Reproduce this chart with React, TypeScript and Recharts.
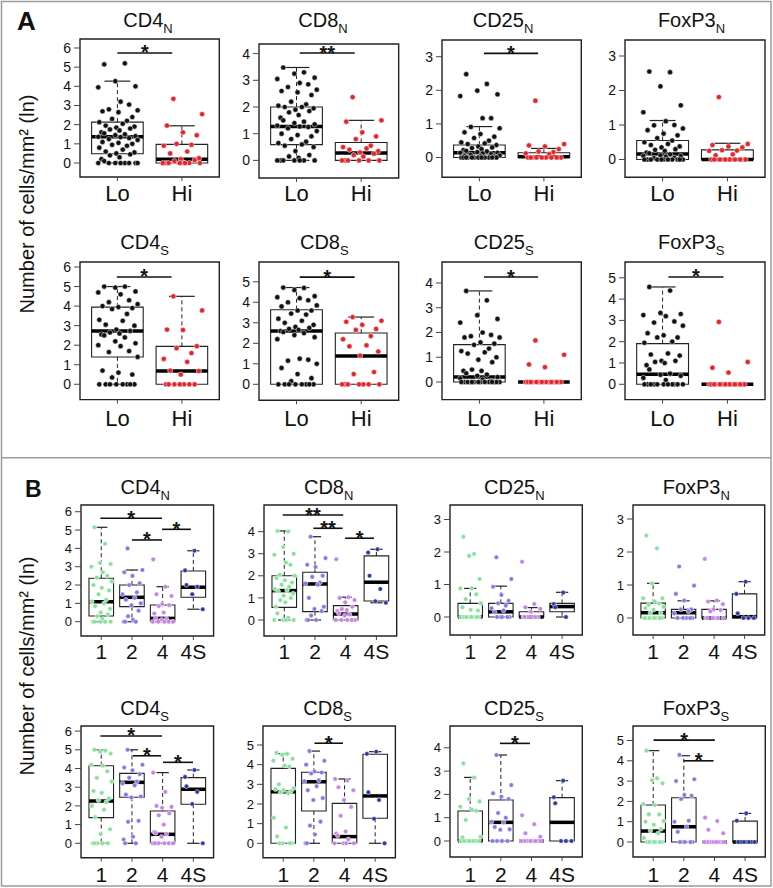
import { ComposedChart, Scatter, XAxis, YAxis, ReferenceArea, ReferenceLine } from 'recharts'

const FONT = '"Liberation Sans", Arial, Helvetica, sans-serif'

// categories
const GROUPS_A = ['Lo', 'Hi']
const GROUPS_B = ['1', '2', '4', '4S']
const MARKERS = ['CD4', 'CD8', 'CD25', 'FoxP3']
const Y_TITLE = 'Number of cells/mm² (ln)'
// highest labelled y tick per plot (CD4N, CD8N, CD25N, FoxP3N, CD4S, CD8S, CD25S, FoxP3S)
const Y_TOP_TICK = [6, 4, 3, 3, 6, 5, 4, 5]

// ---- panel A: Lo vs Hi. box = [lower whisker, q1, median, q3, upper whisker]
const A_CD4N_PTS = [
  [5.15, 5.2, 4.27, 4.0, 3.95, 3.2, 3.05, 2.8, 2.75, 2.7, 2.65, 2.4, 2.3, 2.2, 2.13, 2.05, 1.95, 1.9, 1.85, 1.8, 1.75, 1.7, 1.6, 1.55, 1.5, 1.45, 1.4, 1.37, 1.35, 1.3, 1.25, 1.2, 1.1, 1.05, 1.0, 0.95, 0.9, 0.8, 0.7, 0.6, 0.55, 0.5, 0.45, 0.4, 0.3, 0.2, 0.1, 0, 0, 0, 0, 0, 0, 0, 0],
  [3.35, 2.55, 1.95, 1.6, 1.45, 1.0, 0.95, 0.9, 0.6, 0.5, 0.25, 0.2, 0.15, 0.1, 0, 0, 0, 0, 0, 0, 0, 0],
]
const A_CD4N_BOX = [[0, 0.48, 1.37, 2.13, 4.27], [0, 0, 0.2, 0.97, 1.94]]
const A_CD4N_SIG = [[1.0, 1.85, 5.74, '*']]

const A_CD8N_PTS = [
  [3.48, 3.3, 3.25, 3.1, 3.05, 2.9, 2.85, 2.75, 2.65, 2.6, 2.55, 2.45, 2.2, 2.1, 2.05, 2.0, 2.0, 1.95, 1.9, 1.85, 1.8, 1.7, 1.6, 1.5, 1.45, 1.4, 1.35, 1.3, 1.27, 1.25, 1.2, 1.1, 1.0, 0.95, 0.9, 0.8, 0.7, 0.65, 0.6, 0.55, 0.5, 0.35, 0.2, 0.15, 0.1, 0, 0, 0, 0, 0, 0, 0],
  [2.37, 1.5, 1.45, 1.05, 0.9, 0.8, 0.55, 0.5, 0.45, 0.4, 0.35, 0.3, 0.25, 0.2, 0.15, 0, 0, 0, 0, 0, 0],
]
const A_CD8N_BOX = [[0, 0.59, 1.27, 2.0, 3.48], [0, 0, 0.28, 0.67, 1.5]]
const A_CD8N_SIG = [[1.05, 1.9, 4.02, '**']]

const A_CD25N_PTS = [
  [2.48, 2.19, 1.99, 1.88, 1.83, 1.17, 1.17, 0.91, 0.87, 0.75, 0.7, 0.62, 0.58, 0.5, 0.45, 0.42, 0.4, 0.37, 0.33, 0.3, 0.28, 0.25, 0.22, 0.2, 0.18, 0.16, 0.14, 0.14, 0.12, 0.1, 0.08, 0.06, 0.05, 0.04, 0.03, 0, 0, 0, 0, 0, 0, 0, 0, 0, 0, 0, 0],
  [1.69, 0.4, 0.36, 0.33, 0.25, 0.18, 0.16, 0.12, 0.1, 0, 0, 0, 0, 0, 0, 0, 0, 0, 0],
]
const A_CD25N_BOX = [[0, 0, 0.14, 0.37, 0.92], [0, 0, 0.02, 0.14, 0.27]]
const A_CD25N_SIG = [[1.07, 1.91, 3.1, '*']]

const A_FOXP3N_PTS = [
  [2.55, 2.53, 2.12, 1.57, 1.37, 1.11, 1.0, 0.99, 0.9, 0.85, 0.75, 0.7, 0.62, 0.55, 0.5, 0.45, 0.42, 0.38, 0.35, 0.3, 0.28, 0.25, 0.2, 0.18, 0.15, 0.12, 0.1, 0.1, 0.08, 0.05, 0.04, 0, 0, 0, 0, 0, 0, 0, 0, 0, 0, 0],
  [1.81, 0.45, 0.42, 0.38, 0.35, 0.27, 0.26, 0.25, 0.15, 0.12, 0, 0, 0, 0, 0, 0, 0, 0, 0, 0],
]
const A_FOXP3N_BOX = [[0, 0, 0.16, 0.55, 1.13], [0, 0, 0, 0.28, 0.47]]
const A_FOXP3N_SIG: (number | string)[][] = []

const A_CD4S_PTS = [
  [5.0, 5.0, 4.95, 4.75, 4.7, 4.6, 4.3, 4.2, 4.1, 4.0, 3.95, 3.9, 3.85, 3.6, 3.3, 3.25, 3.05, 3.0, 2.8, 2.73, 2.65, 2.6, 2.55, 2.5, 2.4, 2.2, 2.1, 2.0, 1.95, 1.7, 1.65, 1.4, 0.7, 0.6, 0.5, 0.35, 0, 0, 0, 0, 0, 0, 0, 0],
  [4.5, 3.78, 2.8, 2.78, 1.95, 1.85, 1.6, 1.3, 1.15, 0.7, 0.68, 0.5, 0, 0, 0, 0, 0, 0, 0],
]
const A_CD4S_BOX = [[0, 1.4, 2.73, 3.95, 5.0], [0, 0, 0.68, 1.94, 4.5]]
const A_CD4S_SIG = [[0.99, 1.84, 5.49, '*']]

const A_CD8S_PTS = [
  [4.72, 4.7, 4.6, 4.3, 4.25, 4.2, 4.1, 4.0, 3.85, 3.8, 3.6, 3.6, 3.45, 3.4, 3.2, 3.1, 3.0, 2.9, 2.8, 2.75, 2.7, 2.65, 2.6, 2.55, 2.5, 2.4, 2.3, 2.2, 1.25, 1.2, 1.15, 1.0, 0.8, 0.5, 0.3, 0.15, 0, 0, 0, 0, 0, 0, 0, 0],
  [3.28, 3.1, 3.05, 2.9, 2.7, 2.65, 2.35, 2.2, 1.9, 1.85, 1.6, 1.4, 0.6, 0.5, 0, 0, 0, 0, 0, 0, 0],
]
const A_CD8S_BOX = [[0, 0, 2.6, 3.64, 4.72], [0, 0, 1.38, 2.5, 3.28]]
const A_CD8S_SIG = [[1.05, 1.9, 5.23, '*']]

const A_CD25S_PTS = [
  [3.68, 3.3, 2.7, 2.55, 2.4, 2.0, 1.9, 1.85, 1.8, 1.8, 1.6, 1.55, 1.5, 1.35, 1.25, 1.2, 1.15, 1.0, 0.9, 0.8, 0.5, 0.45, 0.45, 0.35, 0.3, 0.25, 0.2, 0.15, 0.1, 0.05, 0, 0, 0, 0, 0, 0, 0, 0, 0, 0, 0, 0, 0, 0],
  [1.68, 1.1, 0.71, 0.6, 0, 0, 0, 0, 0, 0, 0, 0, 0, 0, 0, 0, 0, 0, 0],
]
const A_CD25S_BOX = [[0, 0, 0.2, 1.51, 3.68], [0, 0, 0, 0, 0]]
const A_CD25S_SIG = [[1.07, 1.91, 4.24, '*']]

const A_FOXP3S_PTS = [
  [4.57, 4.4, 3.35, 3.3, 3.25, 3.2, 2.95, 2.9, 2.75, 2.4, 2.3, 2.2, 2.2, 2.0, 1.95, 1.45, 1.4, 1.35, 1.1, 1.1, 1.05, 1.0, 0.9, 0.7, 0.5, 0.45, 0.4, 0.3, 0.2, 0, 0, 0, 0, 0, 0, 0, 0, 0, 0, 0],
  [2.93, 1.05, 0.78, 0.55, 0, 0, 0, 0, 0, 0, 0, 0, 0, 0, 0, 0, 0, 0, 0],
]
const A_FOXP3S_BOX = [[0, 0, 0.47, 1.91, 4.57], [0, 0, 0, 0, 0]]
const A_FOXP3S_SIG = [[1.09, 1.94, 5.04, '*']]

// ---- panel B: groups 1, 2, 4, 4S
const B_CD4N_PTS = [
  [5.15, 4.25, 3.2, 3.15, 3.0, 2.7, 2.5, 2.4, 2.2, 2.0, 1.85, 1.7, 1.5, 1.2, 1.1, 1.0, 0.85, 0.7, 0.5, 0.4, 0.3, 0.15, 0, 0, 0, 0, 0],
  [4.0, 2.82, 2.7, 2.5, 2.1, 2.0, 1.6, 1.5, 1.3, 1.2, 1.0, 0.9, 0.6, 0.3, 0.1, 0, 0, 0],
  [3.4, 1.91, 1.5, 1.4, 0.95, 0.9, 0.85, 0.5, 0.45, 0.2, 0.15, 0.1, 0, 0, 0, 0, 0, 0],
  [3.87, 2.8, 2.0, 1.9, 1.5, 0.68],
]
const B_CD4N_BOX = [[0, 0.31, 1.09, 2.37, 5.15], [0, 0.82, 1.33, 2.0, 2.82], [0, 0, 0.18, 0.91, 1.91], [0.68, 1.33, 1.88, 2.77, 3.87]]
const B_CD4N_SIG = [[0.97, 2.98, 5.64, '*'], [2.0, 2.98, 4.46, '*'], [2.98, 3.92, 5.04, '*']]

const B_CD8N_PTS = [
  [4.03, 4.0, 3.3, 3.0, 2.95, 2.6, 2.5, 2.05, 2.0, 1.9, 1.8, 1.7, 1.6, 1.5, 1.4, 1.35, 1.3, 1.2, 1.1, 1.0, 0.9, 0.8, 0.6, 0.3, 0.1, 0, 0, 0, 0],
  [3.77, 2.8, 2.5, 2.4, 2.0, 1.95, 1.7, 1.65, 1.6, 1.0, 0.6, 0.5, 0.4, 0.2, 0, 0, 0],
  [2.75, 1.03, 1.0, 0.9, 0.8, 0.6, 0.5, 0.45, 0.4, 0.3, 0.25, 0.2, 0, 0, 0, 0, 0],
  [3.2, 3.05, 2.0, 1.4, 0.85, 0.78],
]
const B_CD8N_BOX = [[0, 0.57, 1.33, 2.0, 4.03], [0, 0.38, 1.63, 2.16, 3.77], [0, 0, 0.27, 0.65, 1.03], [0.78, 0.86, 1.71, 2.9, 3.2]]
const B_CD8N_SIG = [[0.95, 2.92, 4.75, '**'], [1.95, 2.9, 4.15, '**'], [2.98, 3.92, 3.7, '*']]

const B_CD25N_PTS = [
  [2.47, 1.94, 1.88, 1.17, 0.88, 0.88, 0.7, 0.55, 0.42, 0.3, 0.22, 0.2, 0, 0, 0, 0, 0, 0, 0, 0, 0, 0],
  [1.84, 1.17, 0.93, 0.68, 0.5, 0.42, 0.35, 0.27, 0.2, 0.15, 0, 0, 0, 0, 0],
  [1.7, 0.4, 0.3, 0.25, 0.16, 0, 0, 0, 0, 0, 0],
  [0.75, 0.4, 0.3, 0],
]
const B_CD25N_BOX = [[0, 0, 0, 0.42, 0.88], [0, 0, 0.16, 0.42, 0.95], [0, 0, 0, 0.16, 0.29], [0, 0.16, 0.32, 0.42, 0.76]]
const B_CD25N_SIG: (number | string)[][] = []

const B_FOXP3N_PTS = [
  [2.5, 2.11, 1.05, 0.6, 0.6, 0.5, 0.44, 0.4, 0.34, 0.3, 0.25, 0.16, 0.15, 0, 0, 0, 0, 0, 0, 0, 0, 0, 0],
  [1.56, 0.98, 0.73, 0.53, 0.26, 0.26, 0.2, 0.14, 0, 0, 0, 0, 0],
  [1.79, 0.53, 0.5, 0.42, 0.26, 0.24, 0.2, 0, 0, 0, 0, 0, 0],
  [1.1, 0.73, 0.14, 0, 0, 0],
]
const B_FOXP3N_BOX = [[0, 0, 0.16, 0.45, 1.05], [0, 0, 0.16, 0.26, 0.52], [0, 0, 0, 0.26, 0.52], [0, 0, 0.04, 0.73, 1.1]]
const B_FOXP3N_SIG: (number | string)[][] = []

const B_CD4S_PTS = [
  [5.0, 4.95, 4.9, 4.8, 4.2, 4.15, 3.85, 3.5, 3.3, 2.8, 2.7, 2.4, 2.3, 2.2, 2.0, 1.8, 1.4, 0.75, 0.5, 0, 0, 0, 0, 0],
  [5.0, 4.2, 4.05, 3.9, 3.7, 3.5, 3.3, 3.2, 3.1, 2.6, 2.5, 2.45, 1.2, 1.15, 0.35, 0.2, 0, 0],
  [3.78, 2.75, 2.0, 1.95, 1.9, 1.6, 1.5, 1.0, 0.6, 0.55, 0.5, 0.35, 0, 0, 0, 0, 0, 0, 0],
  [3.92, 3.55, 3.05, 2.75, 2.1, 0],
]
const B_CD4S_BOX = [[0, 1.37, 2.26, 4.15, 4.99], [0, 2.46, 3.26, 3.74, 5.0], [0, 0, 0.48, 1.73, 3.78], [0, 2.09, 2.89, 3.51, 3.92]]
const B_CD4S_SIG = [[0.97, 2.98, 5.74, '*'], [2.03, 2.95, 4.68, '*'], [3.01, 3.99, 4.33, '*']]

const B_CD8S_PTS = [
  [4.6, 4.55, 4.5, 4.3, 4.2, 3.95, 3.9, 3.0, 2.8, 2.75, 2.7, 2.65, 2.6, 2.55, 1.3, 0.8, 0.35, 0, 0, 0, 0],
  [4.69, 4.2, 4.0, 3.65, 3.6, 3.55, 3.2, 3.15, 2.9, 2.7, 2.3, 2.2, 1.1, 0.9, 0.45, 0, 0],
  [3.27, 3.2, 2.85, 2.7, 2.2, 1.85, 1.4, 0.6, 0.5, 0.4, 0.2, 0, 0, 0, 0],
  [4.66, 4.55, 2.6, 2.2, 1.25, 0],
]
const B_CD8S_BOX = [[0, 0, 2.62, 3.81, 4.56], [0, 1.64, 3.13, 3.61, 4.69], [0, 0, 0.34, 2.03, 3.27], [0, 1.27, 2.41, 4.53, 4.66]]
const B_CD8S_SIG = [[2.02, 2.95, 5.09, '*']]

const B_CD25S_PTS = [
  [3.33, 2.72, 1.8, 1.7, 1.47, 1.35, 1.3, 0.9, 0.18, 0.15, 0, 0, 0, 0, 0, 0, 0, 0, 0],
  [3.69, 2.4, 2.05, 1.9, 1.8, 1.2, 1.0, 0.82, 0.8, 0.6, 0.5, 0.48, 0, 0, 0, 0],
  [1.1, 0.72, 0.33, 0.18, 0, 0, 0, 0, 0, 0, 0, 0, 0, 0],
  [2.59, 1.88, 1.62, 0, 0, 0],
]
const B_CD25S_BOX = [[0, 0, 0, 1.29, 2.73], [0, 0, 0.8, 1.76, 3.69], [0, 0, 0, 0, 0], [0, 0, 0.8, 1.86, 2.59]]
const B_CD25S_SIG = [[1.97, 2.95, 4.19, '*']]

const B_FOXP3S_PTS = [
  [4.5, 3.14, 3.05, 2.89, 1.87, 1.82, 1.36, 1.36, 1.03, 1.0, 0.85, 0.64, 0.55, 0.43, 0.2, 0, 0, 0, 0, 0, 0, 0],
  [4.29, 3.09, 3.0, 2.32, 2.28, 2.12, 1.05, 1.0, 0.75, 0.5, 0, 0, 0, 0, 0],
  [1.2, 1.03, 0.6, 0.43, 0, 0, 0, 0, 0, 0, 0, 0, 0, 0, 0],
  [1.41, 1.05, 0, 0, 0, 0],
]
const B_FOXP3S_BOX = [[0, 0, 0.54, 1.82, 4.5], [0, 0, 0.75, 2.18, 4.25], [0, 0, 0, 0, 0], [0, 0, 0, 1.03, 1.41]]
const B_FOXP3S_SIG = [[1.01, 3.01, 5.02, '*'], [1.99, 2.97, 4.0, '*']]

const A_PTS = [A_CD4N_PTS, A_CD8N_PTS, A_CD25N_PTS, A_FOXP3N_PTS, A_CD4S_PTS, A_CD8S_PTS, A_CD25S_PTS, A_FOXP3S_PTS]
const A_BOX = [A_CD4N_BOX, A_CD8N_BOX, A_CD25N_BOX, A_FOXP3N_BOX, A_CD4S_BOX, A_CD8S_BOX, A_CD25S_BOX, A_FOXP3S_BOX]
const A_SIG = [A_CD4N_SIG, A_CD8N_SIG, A_CD25N_SIG, A_FOXP3N_SIG, A_CD4S_SIG, A_CD8S_SIG, A_CD25S_SIG, A_FOXP3S_SIG]
const B_PTS = [B_CD4N_PTS, B_CD8N_PTS, B_CD25N_PTS, B_FOXP3N_PTS, B_CD4S_PTS, B_CD8S_PTS, B_CD25S_PTS, B_FOXP3S_PTS]
const B_BOX = [B_CD4N_BOX, B_CD8N_BOX, B_CD25N_BOX, B_FOXP3N_BOX, B_CD4S_BOX, B_CD8S_BOX, B_CD25S_BOX, B_FOXP3S_BOX]
const B_SIG = [B_CD4N_SIG, B_CD8N_SIG, B_CD25N_SIG, B_FOXP3N_SIG, B_CD4S_SIG, B_CD8S_SIG, B_CD25S_SIG, B_FOXP3S_SIG]

// ---- layout (page pixels): plot frame [left, top, right, bottom], pixel of y=0, px per unit, title centre / baseline
const LAYOUT_A = [
  { frame: [80, 39.3, 219.3, 177.3], y0: 163.3, k: 19.17, tx: 148, ty: 26.5, gap: 4.1 },
  { frame: [259.3, 44.3, 399, 178.3], y0: 160.7, k: 26.7, tx: 323, ty: 26.5, gap: 3.1 },
  { frame: [441.7, 40, 581, 177.3], y0: 157.5, k: 33.6, tx: 503, ty: 26.5, gap: 4.1 },
  { frame: [625, 40, 765, 177.3], y0: 159.5, k: 34.5, tx: 691.5, ty: 26.5, gap: 4.1 },
  { frame: [80, 261.7, 219.3, 399.3], y0: 384, k: 19.55, tx: 144.7, ty: 249, gap: 6.5 },
  { frame: [259.3, 261.7, 399, 400], y0: 384, k: 20.5, tx: 324.3, ty: 249, gap: 5.8 },
  { frame: [441.7, 261.7, 581, 399.3], y0: 381.7, k: 24.75, tx: 503.7, ty: 249, gap: 6.5 },
  { frame: [625, 261.7, 765, 399.3], y0: 384, k: 21.3, tx: 691.3, ty: 249, gap: 6.5 },
]
const LAYOUT_B = [
  { frame: [80.7, 505, 213.3, 636], y0: 621.7, k: 18.33, tx: 145.3, ty: 493.5, gap: 4.5 },
  { frame: [264, 505, 396.7, 636], y0: 620, k: 22.1, tx: 328.7, ty: 493.5, gap: 4.5 },
  { frame: [450, 505, 582.3, 635], y0: 617, k: 32.5, tx: 514.3, ty: 493.5, gap: 5.5 },
  { frame: [633.3, 505, 765, 635], y0: 618, k: 33, tx: 696.3, ty: 493.5, gap: 5.5 },
  { frame: [80.7, 726, 213.3, 857.7], y0: 843.3, k: 18.7, tx: 144.7, ty: 714.5, gap: 5.8 },
  { frame: [263.3, 726, 395.7, 857.7], y0: 843.3, k: 19.66, tx: 327.7, ty: 714.5, gap: 5.8 },
  { frame: [450, 726, 582.3, 857], y0: 841, k: 23.3, tx: 514, ty: 714.5, gap: 6.5 },
  { frame: [632.7, 726, 765, 857], y0: 842, k: 20.3, tx: 696, ty: 714.5, gap: 6.5 },
]

const COLORS_A = ['#111111', '#e3262b']
const COLORS_B = ['#86e29b', '#8579e6', '#c584e6', '#2b3ba6']
// fixed horizontal spread pattern for the strip points
const SPREAD = [-0.62, 0.35, -0.1, 0.85, -0.9, 0.15, 0.55, -0.4, 0.95, -0.7, 0.05, 0.7, -0.25, 0.45, -0.85, 0.25, -0.55, 0.8, -0.05, 0.6, -0.35, 0.1, -0.75]

type Lay = { frame: number[]; y0: number; k: number; tx: number; ty: number; gap: number }

function BoxStrip({ lay, groups, colors, pts, box, sig, topTick, big }: {
  lay: Lay; groups: string[]; colors: string[]; pts: number[][]; box: number[][]
  sig: (number | string)[][]; topTick: number; big: boolean
}) {
  const [L, T, R, B] = lay.frame
  const YW = 46, MT = 6, MR = 6, XH = 40
  const yMax = (lay.y0 - T) / lay.k
  const yMin = -(B - lay.y0) / lay.k
  const n = groups.length
  const xDom = n === 2 ? [0.42, 2.58] : [0.34, 4.66]
  const amp = n === 2 ? 0.33 : 0.36
  const r = big ? 2.6 : 2.3
  const yTicks = Array.from({ length: topTick + 1 }, (_, i) => i)
  const ink = '#222'

  const boxes = box.flatMap((s, g) => {
    const c = g + 1
    const [lo, q1, med, q3, hi] = s
    const els = []
    if (hi > q3) {
      els.push(<ReferenceLine key={`wu${g}`} segment={[{ x: c, y: q3 }, { x: c, y: hi }]} stroke={ink} strokeDasharray="4 3" ifOverflow="visible" />)
      els.push(<ReferenceLine key={`cu${g}`} segment={[{ x: c - 0.2, y: hi }, { x: c + 0.2, y: hi }]} stroke={ink} strokeWidth={1.2} ifOverflow="visible" />)
    }
    if (q1 > lo) {
      els.push(<ReferenceLine key={`wl${g}`} segment={[{ x: c, y: q1 }, { x: c, y: lo }]} stroke={ink} strokeDasharray="4 3" ifOverflow="visible" />)
      els.push(<ReferenceLine key={`cl${g}`} segment={[{ x: c - 0.2, y: lo }, { x: c + 0.2, y: lo }]} stroke={ink} strokeWidth={1.2} ifOverflow="visible" />)
    }
    els.push(<ReferenceArea key={`b${g}`} x1={c - 0.4} x2={c + 0.4} y1={q1} y2={q3} fill="none" stroke={ink} strokeWidth={1.1} ifOverflow="visible" />)
    els.push(<ReferenceLine key={`m${g}`} segment={[{ x: c - 0.4, y: med }, { x: c + 0.4, y: med }]} stroke="#000" strokeWidth={3.5} ifOverflow="visible" />)
    return els
  })

  const bars = sig.map((b, i) => (
    <ReferenceLine key={`s${i}`} segment={[{ x: b[0] as number, y: b[2] as number }, { x: b[1] as number, y: b[2] as number }]} stroke="#111" strokeWidth={1.6} ifOverflow="visible" />
  ))
  const stars = sig.map((b) => ({ x: ((b[0] as number) + (b[1] as number)) / 2, y: b[2] as number, label: b[3] }))

  return (
    <div style={{ position: 'absolute', left: L - YW, top: T - MT }}>
      <ComposedChart width={R - L + YW + MR} height={B - T + MT + XH} margin={{ top: MT, right: MR, left: 0, bottom: 0 }}>
        <XAxis type="number" dataKey="x" domain={xDom} ticks={groups.map((_, i) => i + 1)} allowDataOverflow
          tickFormatter={(v: number) => groups[v - 1]} axisLine={false} tickLine={{ stroke: '#444' }} tickSize={4}
          tickMargin={lay.gap} height={XH} interval={0}
          tick={{ fontSize: big ? 22 : 21, fill: '#111', fontFamily: FONT }} />
        <YAxis type="number" dataKey="y" domain={[yMin, yMax]} ticks={yTicks} allowDataOverflow axisLine={false}
          tickLine={{ stroke: '#444' }} tickSize={6} tickMargin={3} width={YW} interval={0}
          tick={{ fontSize: big ? 14 : 13, fill: '#111', fontFamily: FONT }} />
        {boxes}
        {pts.map((vals, g) => (
          <Scatter key={`p${g}`} data={vals.map((v, i) => ({ x: g + 1 + SPREAD[(i + g * 7) % SPREAD.length] * amp, y: v }))}
            isAnimationActive={false}
            shape={(p: any) => <circle cx={p.cx} cy={p.cy} r={r} fill={colors[g]} stroke="#fff" strokeWidth={0.5} />} />
        ))}
        {bars}
        <Scatter data={stars} isAnimationActive={false}
          shape={(p: any) => (
            <text x={p.cx} y={p.cy + 6.5} textAnchor="middle" fontSize={20} fontWeight="bold" fontFamily={FONT} fill="#111">
              {p.payload.label}
            </text>
          )} />
        <ReferenceArea x1={xDom[0]} x2={xDom[1]} y1={yMin} y2={yMax} fill="none" stroke={ink} strokeWidth={1.4} ifOverflow="visible" />
      </ComposedChart>
    </div>
  )
}

function Title({ x, y, i }: { x: number; y: number; i: number }) {
  return (
    <text x={x} y={y} textAnchor="middle" fontSize={20} fontFamily={FONT} fill="#111">
      {MARKERS[i % 4]}
      <tspan dy={6} fontSize={13}>{i < 4 ? 'N' : 'S'}</tspan>
    </text>
  )
}

export default function App() {
  return (
    <div style={{ position: 'absolute', left: 0, top: 0, width: 773, height: 888, background: '#fff', fontFamily: FONT }}>
      <svg width={773} height={888} style={{ position: 'absolute', left: 0, top: 0 }}>
        <rect x={1.5} y={1.5} width={769.5} height={884.5} fill="none" stroke="#9a9a9a" strokeWidth={1.5} />
        <line x1={1.5} x2={771} y1={457.7} y2={457.7} stroke="#9a9a9a" strokeWidth={1.5} />
        <text x={17} y={30} fontSize={26} fontWeight="bold" fontFamily={FONT} fill="#111">A</text>
        <text x={25} y={497} fontSize={23} fontWeight="bold" fontFamily={FONT} fill="#111">B</text>
        <text transform="translate(34,204) rotate(-90)" textAnchor="middle" fontSize={20} fontFamily={FONT} fill="#111">{Y_TITLE}</text>
        <text transform="translate(34,666) rotate(-90)" textAnchor="middle" fontSize={20} fontFamily={FONT} fill="#111">{Y_TITLE}</text>
        {LAYOUT_A.map((l, i) => <Title key={`ta${i}`} x={l.tx} y={l.ty} i={i} />)}
        {LAYOUT_B.map((l, i) => <Title key={`tb${i}`} x={l.tx} y={l.ty} i={i} />)}
      </svg>
      {LAYOUT_A.map((l, i) => (
        <BoxStrip key={`a${i}`} lay={l} groups={GROUPS_A} colors={COLORS_A} pts={A_PTS[i]} box={A_BOX[i]} sig={A_SIG[i]} topTick={Y_TOP_TICK[i]} big />
      ))}
      {LAYOUT_B.map((l, i) => (
        <BoxStrip key={`b${i}`} lay={l} groups={GROUPS_B} colors={COLORS_B} pts={B_PTS[i]} box={B_BOX[i]} sig={B_SIG[i]} topTick={Y_TOP_TICK[i]} big={false} />
      ))}
    </div>
  )
}
